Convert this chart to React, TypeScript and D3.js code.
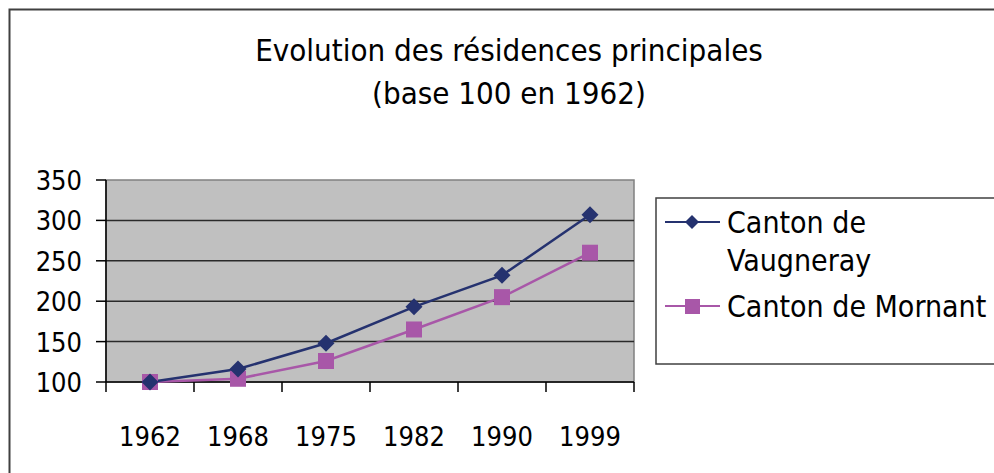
import * as d3 from 'd3'

const years = ['1962', '1968', '1975', '1982', '1990', '1999']
const vaugneray = [100, 116, 148, 193, 232, 307]
const mornant = [100, 104, 126, 165, 205, 260]
const yTicks = [100, 150, 200, 250, 300, 350]
const titleLines = ['Evolution des résidences principales', '(base 100 en 1962)']

const font = '"DejaVu Sans Condensed", "DejaVu Sans", sans-serif'
const navy = '#25326f'
const pink = '#a857a8'

export default function App() {
  const width = 994
  const height = 473
  const plot = { left: 106, right: 634, top: 180, bottom: 382 }

  const x = d3.scaleBand<string>().domain(years).range([plot.left, plot.right])
  const y = d3.scaleLinear().domain([100, 350]).range([plot.bottom, plot.top])
  const cx = (d: string) => (x(d) ?? 0) + x.bandwidth() / 2

  const line = d3
    .line<number>()
    .x((_, i) => cx(years[i]))
    .y((d) => y(d))

  const diamond = (px: number, py: number, r: number) =>
    `M${px},${py - r}L${px + r},${py}L${px},${py + r}L${px - r},${py}Z`

  return (
    <svg
      width={width}
      height={height}
      style={{ position: 'absolute', left: 0, top: 0, background: '#fff' }}
    >
      {/* outer chart border */}
      <rect x={9.5} y={9.5} width={1000} height={500} fill="none" stroke="#404040" strokeWidth={2} />

      {/* title */}
      {titleLines.map((t, i) => (
        <text
          key={t}
          x={509}
          y={61 + i * 43}
          textAnchor="middle"
          fontFamily={font}
          fontSize={31}
          fill="#000"
        >
          {t}
        </text>
      ))}

      {/* plot area */}
      <rect
        x={plot.left}
        y={plot.top}
        width={plot.right - plot.left}
        height={plot.bottom - plot.top}
        fill="#c0c0c0"
        stroke="#808080"
        strokeWidth={1.5}
      />
      {yTicks.slice(1, -1).map((t) => (
        <line key={t} x1={plot.left} x2={plot.right} y1={y(t)} y2={y(t)} stroke="#2a2a2a" strokeWidth={1.5} />
      ))}

      {/* y axis */}
      <line x1={plot.left} x2={plot.left} y1={plot.top} y2={plot.bottom} stroke="#000" strokeWidth={1.5} />
      {yTicks.map((t) => (
        <g key={t}>
          <line x1={plot.left - 10} x2={plot.left} y1={y(t)} y2={y(t)} stroke="#000" strokeWidth={1.5} />
          <text
            x={82}
            y={y(t) + 10}
            textAnchor="end"
            fontFamily={font}
            fontSize={27}
            fill="#000"
          >
            {t}
          </text>
        </g>
      ))}

      {/* x axis */}
      <line x1={plot.left} x2={plot.right} y1={plot.bottom} y2={plot.bottom} stroke="#000" strokeWidth={1.5} />
      {[...years.map((d) => x(d) ?? 0), plot.right].map((px, i) => (
        <line key={i} x1={px} x2={px} y1={plot.bottom} y2={plot.bottom + 10} stroke="#000" strokeWidth={1.5} />
      ))}
      {years.map((d) => (
        <text key={d} x={cx(d)} y={446} textAnchor="middle" fontFamily={font} fontSize={27} fill="#000">
          {d}
        </text>
      ))}

      {/* series */}
      <path d={line(mornant) ?? ''} fill="none" stroke={pink} strokeWidth={2.5} />
      <path d={line(vaugneray) ?? ''} fill="none" stroke={navy} strokeWidth={2.5} />
      {mornant.map((v, i) => (
        <rect key={i} x={cx(years[i]) - 8} y={y(v) - 8} width={16} height={16} fill={pink} />
      ))}
      {vaugneray.map((v, i) => (
        <path key={i} d={diamond(cx(years[i]), y(v), 8.5)} fill={navy} />
      ))}

      {/* legend */}
      <rect x={656} y={198} width={400} height={166} fill="#fff" stroke="#404040" strokeWidth={1.5} />
      <line x1={665} x2={720} y1={222} y2={222} stroke={navy} strokeWidth={2} />
      <path d={diamond(692, 222, 7)} fill={navy} />
      <text x={727} y={233} fontFamily={font} fontSize={30} fill="#000">
        Canton de
      </text>
      <text x={727} y={271} fontFamily={font} fontSize={30} fill="#000">
        Vaugneray
      </text>
      <line x1={665} x2={720} y1={306} y2={306} stroke={pink} strokeWidth={2} />
      <rect x={685} y={299} width={15} height={15} fill={pink} />
      <text x={727} y={317} fontFamily={font} fontSize={30} fill="#000">
        Canton de Mornant
      </text>
    </svg>
  )
}
